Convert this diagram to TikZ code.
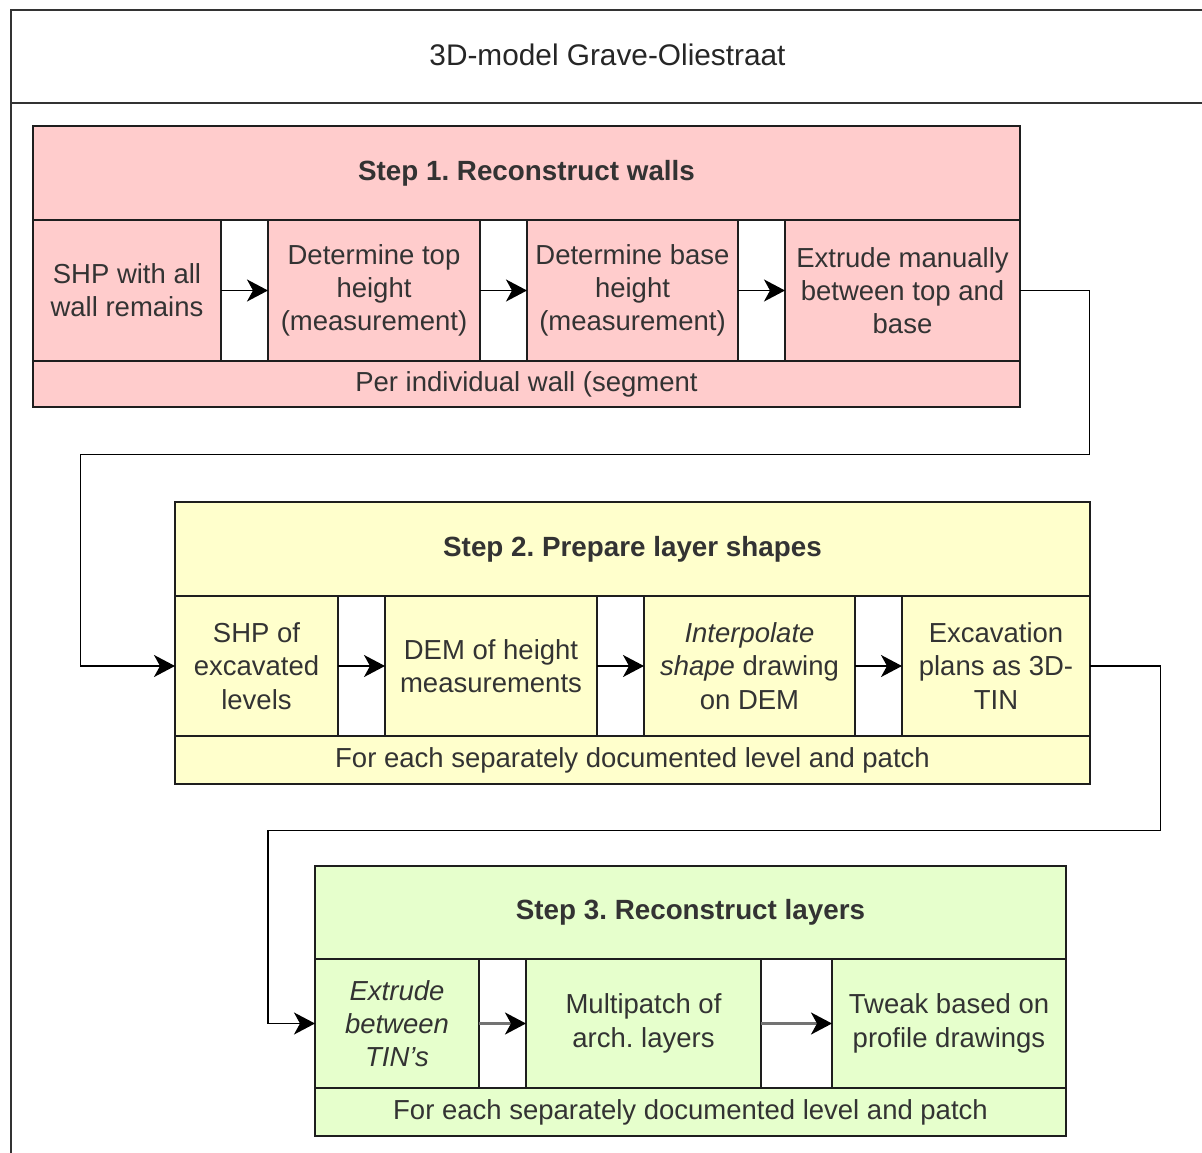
\documentclass[tikz,border=0pt]{standalone}
\usepackage{fontspec}
\setmainfont{Liberation Sans}
\usetikzlibrary{arrows.meta}
\definecolor{pinkfill}{HTML}{FFCCCC}
\definecolor{yelfill}{HTML}{FFFFCC}
\definecolor{grnfill}{HTML}{E6FFCC}
\definecolor{txt}{HTML}{333333}
\definecolor{edge}{HTML}{1E1E1E}
\newcommand{\boxat}[7]{%
  \node[#1, minimum width={(#5-#3)*1pt}, minimum height={(#6-#4)*1pt}] (#2) at ({(#3+#5)/2},{(#4+#6)/2}) {#7};}
\frenchspacing
\begin{document}
\frenchspacing
\begin{tikzpicture}[x=1pt,y=-1pt,
  cellbox/.style={draw=edge, line width=1.5pt, inner sep=0pt, outer sep=0pt, align=center, text=txt,
     font=\fontsize{27.5}{33.3}\selectfont\frenchspacing},
  pinkbox/.style={cellbox, fill=pinkfill},
  yelbox/.style={cellbox, fill=yelfill},
  grnbox/.style={cellbox, fill=grnfill},
  gapbox/.style={cellbox, fill=white},
  titlebox/.style={font=\fontsize{27.8}{33.3}\selectfont\bfseries\frenchspacing},
  tipk/.tip={Stealth[length=21pt,width=22pt,inset=6pt]},
  arr/.style={draw=black, line width=1.8pt, -{tipk}},
  arrg/.style={draw=black!55, line width=2.4pt, -{Stealth[length=21pt,width=22pt,inset=6pt,black]}},
  frame/.style={draw=black!80, line width=2pt}]
\useasboundingbox (0,0) rectangle (1202,1153);
\fill[white] (0,0) rectangle (1202,1153);
% outer frame
\draw[frame] (10.5,1153) -- (10.5,10) -- (1202,10);
\draw[frame] (10.5,103) -- (1202,103);
\node[text=black!85, font=\fontsize{29.8}{34}\selectfont] (title) at (607.5,55) {3D-model Grave-Oliestraat};
% Step 1
\boxat{pinkbox,titlebox}{s1t}{33}{126}{1020}{220}{Step 1. Reconstruct walls}
\boxat{pinkbox}{s1a}{33}{220}{221}{361}{SHP with all\\wall remains}
\boxat{gapbox}{s1g1}{221}{220}{268}{361}{}
\boxat{pinkbox}{s1b}{268}{220}{480}{361}{Determine top\\height\\(measurement)}
\boxat{gapbox}{s1g2}{480}{220}{527}{361}{}
\boxat{pinkbox}{s1c}{527}{220}{738}{361}{Determine base\\height\\(measurement)}
\boxat{gapbox}{s1g3}{738}{220}{785}{361}{}
\boxat{pinkbox}{s1d}{785}{220}{1020}{361}{Extrude manually\\between top and\\base}
\boxat{pinkbox}{s1f}{33}{361}{1020}{407}{Per individual wall (segment}
\draw[arr] (s1a.east) -- (s1b.west);
\draw[arr] (s1b.east) -- (s1c.west);
\draw[arr] (s1c.east) -- (s1d.west);
% Step 2
\boxat{yelbox,titlebox}{s2t}{175}{502}{1090}{596}{Step 2. Prepare layer shapes}
\boxat{yelbox}{s2a}{175}{596}{338}{736}{SHP of\\excavated\\levels}
\boxat{gapbox}{s2g1}{338}{596}{385}{736}{}
\boxat{yelbox}{s2b}{385}{596}{597}{736}{DEM of height\\measurements}
\boxat{gapbox}{s2g2}{597}{596}{644}{736}{}
\boxat{yelbox}{s2c}{644}{596}{855}{736}{\itshape Interpolate\\\textit{shape} drawing\\on DEM}
\boxat{gapbox}{s2g3}{855}{596}{902}{736}{}
\boxat{yelbox}{s2d}{902}{596}{1090}{736}{Excavation\\plans as 3D-\\TIN}
\boxat{yelbox}{s2f}{175}{736}{1090}{784}{For each separately documented level and patch}
\draw[arr] (s2a.east) -- (s2b.west);
\draw[arr] (s2b.east) -- (s2c.west);
\draw[arr] (s2c.east) -- (s2d.west);
% Step 3
\boxat{grnbox,titlebox}{s3t}{315}{866}{1066}{959}{Step 3. Reconstruct layers}
\boxat{grnbox}{s3a}{315}{959}{479}{1088}{\itshape Extrude\\\itshape between\\\itshape TIN's}
\boxat{gapbox}{s3g1}{479}{959}{526}{1088}{}
\boxat{grnbox}{s3b}{526}{959}{761}{1088}{Multipatch of\\arch. layers}
\boxat{gapbox}{s3g2}{761}{959}{832}{1088}{}
\boxat{grnbox}{s3c}{832}{959}{1066}{1088}{Tweak based on\\profile drawings}
\boxat{grnbox}{s3f}{315}{1088}{1066}{1136}{For each separately documented level and patch}
\draw[arrg] (s3a.east) -- (s3b.west);
\draw[arrg] (s3b.east) -- (s3c.west);
% connectors between steps
\coordinate (k1) at (1089.5,454.5);
\coordinate (k2) at (80.5,454.5);
\coordinate (k3) at (1160.5,830.5);
\coordinate (k4) at (268,830.5);
\draw[arr] (s1d.east) -| (k1) -- (k2) |- (s2a.west);
\draw[arr] (s2d.east) -| (k3) -- (k4) |- (s3a.west);
\end{tikzpicture}
\end{document}
